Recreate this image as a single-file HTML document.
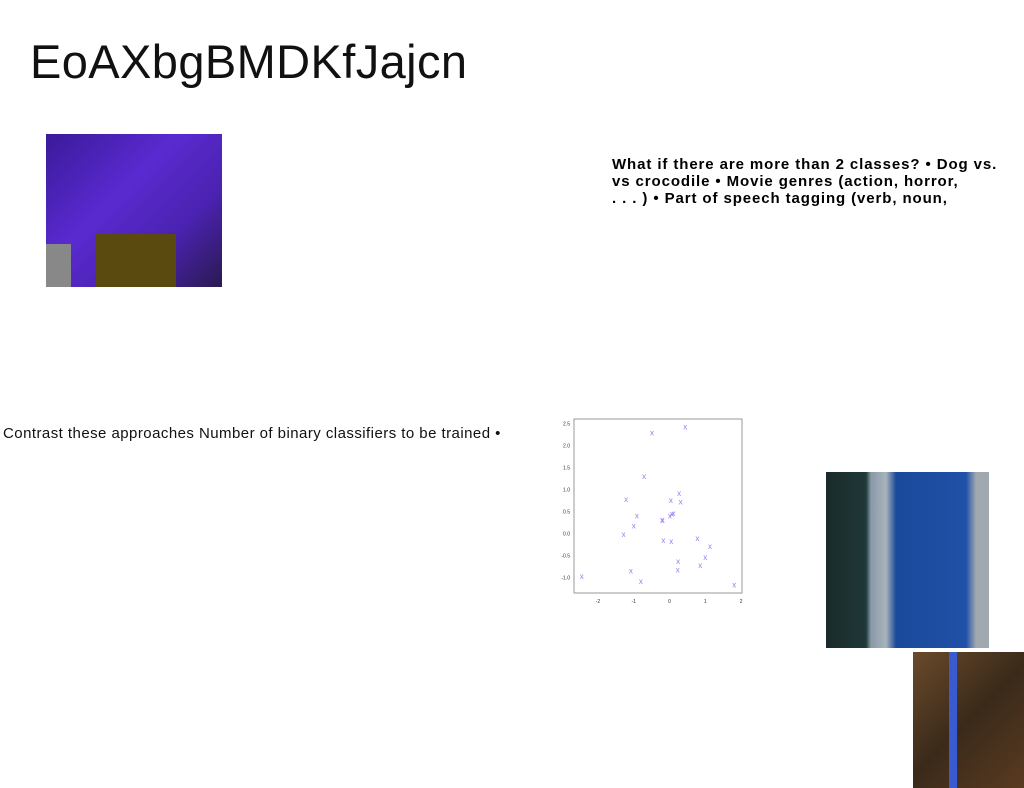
<!DOCTYPE html>
<html><head><meta charset="utf-8"><style>
body{margin:0;width:1024px;height:788px;position:relative;background:#fff;overflow:hidden;font-family:"Liberation Sans",sans-serif;}
.a{position:absolute;}
</style></head><body>
<div class="a" style="left:30px;top:34px;font-size:47px;color:#111;letter-spacing:0.4px;">EoAXbgBMDKfJajcn</div>
<div class="a" style="left:46px;top:134px;width:176px;height:153px;background:linear-gradient(135deg,#3a1a9a,#5a2ad0 40%,#4a22b0 70%,#2a1a50);">
  <div class="a" style="left:50px;top:100px;width:80px;height:53px;background:#5a4a10;"></div>
  <div class="a" style="left:0;top:110px;width:25px;height:43px;background:#888;"></div>
</div>
<div class="a" style="left:612px;top:156px;white-space:nowrap;font-size:15px;font-weight:bold;line-height:17px;letter-spacing:0.9px;color:#000;">What if there are more than 2 classes? • Dog vs.<br>vs crocodile • Movie genres (action, horror,<br>. . . ) • Part of speech tagging (verb, noun,</div>
<div class="a" style="left:3px;top:425px;font-size:15px;letter-spacing:0.45px;white-space:nowrap;color:#111;">Contrast these approaches Number of binary classifiers to be trained •</div>
<svg class="a" style="left:555px;top:410px;" width="200" height="200" id="chart"></svg>
<div class="a" style="left:826px;top:472px;width:163px;height:176px;background:linear-gradient(90deg,#1a2a2a 0,#203838 40px,#8a9aa8 45px,#a8b4bc 60px,#1a4a9a 70px,#2050a8 140px,#a0a8b0 150px);"></div>
<div class="a" style="left:913px;top:652px;width:111px;height:136px;background:linear-gradient(135deg,#6a4a2a,#3a2a1a 50%,#5a3a20);">
  <div class="a" style="left:36px;top:0;width:8px;height:136px;background:#3a5ad0;"></div>
</div>
<script>
const xs=[0.44,-0.49,-0.71,-1.21,0.27,0.04,0.31,-0.91,-0.21,-0.19,0.01,0.07,0.11,-1.0,-1.28,-0.17,0.05,0.78,1.13,1.0,0.24,0.86,0.23,-1.08,-0.8,-2.45,1.81];
const ys=[2.42,2.28,1.29,0.77,0.91,0.75,0.72,0.40,0.31,0.30,0.40,0.45,0.46,0.17,-0.02,-0.16,-0.18,-0.11,-0.29,-0.54,-0.63,-0.72,-0.82,-0.85,-1.09,-0.97,-1.16];
const xTicks=[-2,-1,0,1,2];
const yTicks=[2.5,2.0,1.5,1.0,0.5,0.0,-0.5,-1.0];
const ns="http://www.w3.org/2000/svg",svg=document.getElementById('chart');
const X=v=>114.5+v*35.8, Y=v=>123.6-v*44.1;
function mk(t,a){const e=document.createElementNS(ns,t);for(const k in a)e.setAttribute(k,a[k]);svg.appendChild(e);return e;}
const fr=mk('rect',{x:19,y:9,width:168,height:174,fill:'none',stroke:'#999','stroke-width':1});


xTicks.forEach(t=>{const l=mk('text',{x:X(t),y:193,'font-size':5,'text-anchor':'middle',fill:'#333'});l.textContent=t;

});
yTicks.forEach(t=>{const l=mk('text',{x:15,y:Y(t)+2,'font-size':5,'text-anchor':'end',fill:'#333'});l.textContent=t.toFixed(1);

});
xs.forEach((v,i)=>{const t=mk('text',{x:X(v),y:Y(ys[i])+2.5,'font-size':8,'text-anchor':'middle',fill:'#9a7af0'});t.textContent='x';

});
</script>
</body></html>
